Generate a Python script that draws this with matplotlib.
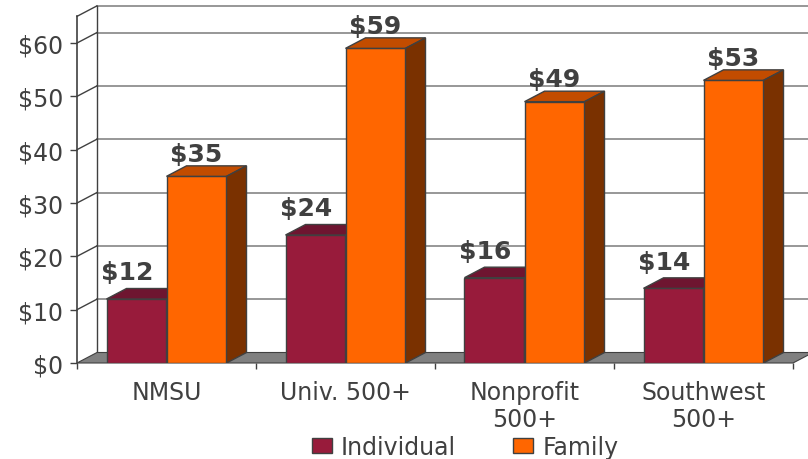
import matplotlib
matplotlib.use('Agg')
import matplotlib.pyplot as plt
from matplotlib.patches import Polygon, Patch

# ---- data ----
categories = ['NMSU', 'Univ. 500+', 'Nonprofit\n500+', 'Southwest\n500+']
individual = [12, 24, 16, 14]
family = [35, 59, 49, 53]
series_names = ['Individual', 'Family']
ytick_values = [0, 10, 20, 30, 40, 50, 60]
ytick_labels = ['$0', '$10', '$20', '$30', '$40', '$50', '$60']
wall_top = 65

# ---- style ----
TXT = '#404040'
IND_FRONT, IND_TOP, IND_SIDE = '#981B3B', '#6E1530', '#5E1128'
FAM_FRONT, FAM_TOP, FAM_SIDE = '#FF6600', '#C24C00', '#7A3100'
GRID = '#858585'
EDGE = '#404040'

W, H = 808, 460
fig = plt.figure(figsize=(W / 100, H / 100), dpi=100)
px_per_cat = 179.0
px_per_unit = 5.333
left_px, zero_px = 77, 364
ymax = 67
ax = fig.add_axes([left_px / W, (H - zero_px) / H, (W - left_px) / W, ymax * px_per_unit / H])
ncat = len(categories)
ax.set_xlim(0, (W - left_px) / px_per_cat)
ax.set_ylim(0, ymax)
ax.set_facecolor('none')

DX = 20 / px_per_cat
DY = 10.5 / px_per_unit
BW = 60 / px_per_cat

# back wall + left wall grid
grid_levels = [v for v in ytick_values if v > 0] + [wall_top]
for v in grid_levels:
    ax.plot([DX, ncat + DX + 1], [v + DY, v + DY], color=GRID, lw=1.2, zorder=1, clip_on=False)
    ax.plot([0, DX], [v, v + DY], color=EDGE, lw=1.0, zorder=1, clip_on=False)
ax.plot([DX, DX], [DY, wall_top + DY], color=EDGE, lw=1.0, zorder=1)

# floor
ax.add_patch(Polygon([(0, 0), (ncat, 0), (ncat + DX, DY), (DX, DY)], closed=True,
                     facecolor='#808080', edgecolor=EDGE, lw=0.8, zorder=2, clip_on=False))

# bars
z = 3
for i in range(ncat):
    for vals, fc, tc, sc, off, lab_dx, lab_dy in [
        (individual, IND_FRONT, IND_TOP, IND_SIDE, -BW / 2, -7, 3),
        (family, FAM_FRONT, FAM_TOP, FAM_SIDE, BW / 2, 0, 0)]:
        v = vals[i]
        xc = i + 0.5 + off
        x0, x1 = xc - BW / 2, xc + BW / 2
        ax.bar([xc], [v], width=BW, color=fc, edgecolor=EDGE, linewidth=1.0, zorder=z)
        ax.add_patch(Polygon([(x0, v), (x1, v), (x1 + DX, v + DY), (x0 + DX, v + DY)],
                             closed=True, facecolor=tc, edgecolor=EDGE, lw=1.0, zorder=z))
        ax.add_patch(Polygon([(x1, 0), (x1 + DX, DY), (x1 + DX, v + DY), (x1, v)],
                             closed=True, facecolor=sc, edgecolor=EDGE, lw=1.0, zorder=z))
        ax.annotate(f'${v}', xy=(xc, v + DY), xytext=(lab_dx, lab_dy), textcoords='offset points',
                    ha='center', va='bottom', fontsize=18, fontweight='bold', color=TXT,
                    family='DejaVu Sans', zorder=z + 1)
        z += 1

# axes / ticks
for s in ['top', 'right', 'bottom']:
    ax.spines[s].set_visible(False)
ax.spines['left'].set_bounds(0, wall_top)
ax.spines['left'].set_color(EDGE)
ax.spines['left'].set_linewidth(1.2)
ax.spines['left'].set_zorder(2)
ax.set_yticks(ytick_values)
ax.set_yticklabels(ytick_labels)
ax.tick_params(axis='y', direction='out', length=5, width=1.0, color=EDGE,
               labelsize=17, labelcolor=TXT, pad=5)
ax.set_xticks(range(ncat + 1))
ax.set_xticklabels([''] * (ncat + 1))
ax.set_xticks([i + 0.5 for i in range(ncat)], minor=True)
ax.set_xticklabels(categories, minor=True)
ax.tick_params(axis='x', which='major', direction='out', length=4.5, width=1.0, color=EDGE)
ax.tick_params(axis='x', which='minor', length=0, labelsize=17, labelcolor=TXT, pad=12)
for t in ax.get_xticklabels(minor=True):
    t.set_linespacing(1.15)

handles = [Patch(facecolor=IND_FRONT, edgecolor=EDGE, lw=1.0),
           Patch(facecolor=FAM_FRONT, edgecolor=EDGE, lw=1.0)]
leg = fig.legend(handles, series_names, loc='center', bbox_to_anchor=(465 / W, 1 - 448 / H),
                 ncol=2, frameon=False, fontsize=17, handlelength=0.85, handleheight=0.6,
                 handletextpad=0.4, columnspacing=2.4, borderpad=0)
for t in leg.get_texts():
    t.set_color(TXT)

fig.savefig('out.png', dpi=100, facecolor='white')
